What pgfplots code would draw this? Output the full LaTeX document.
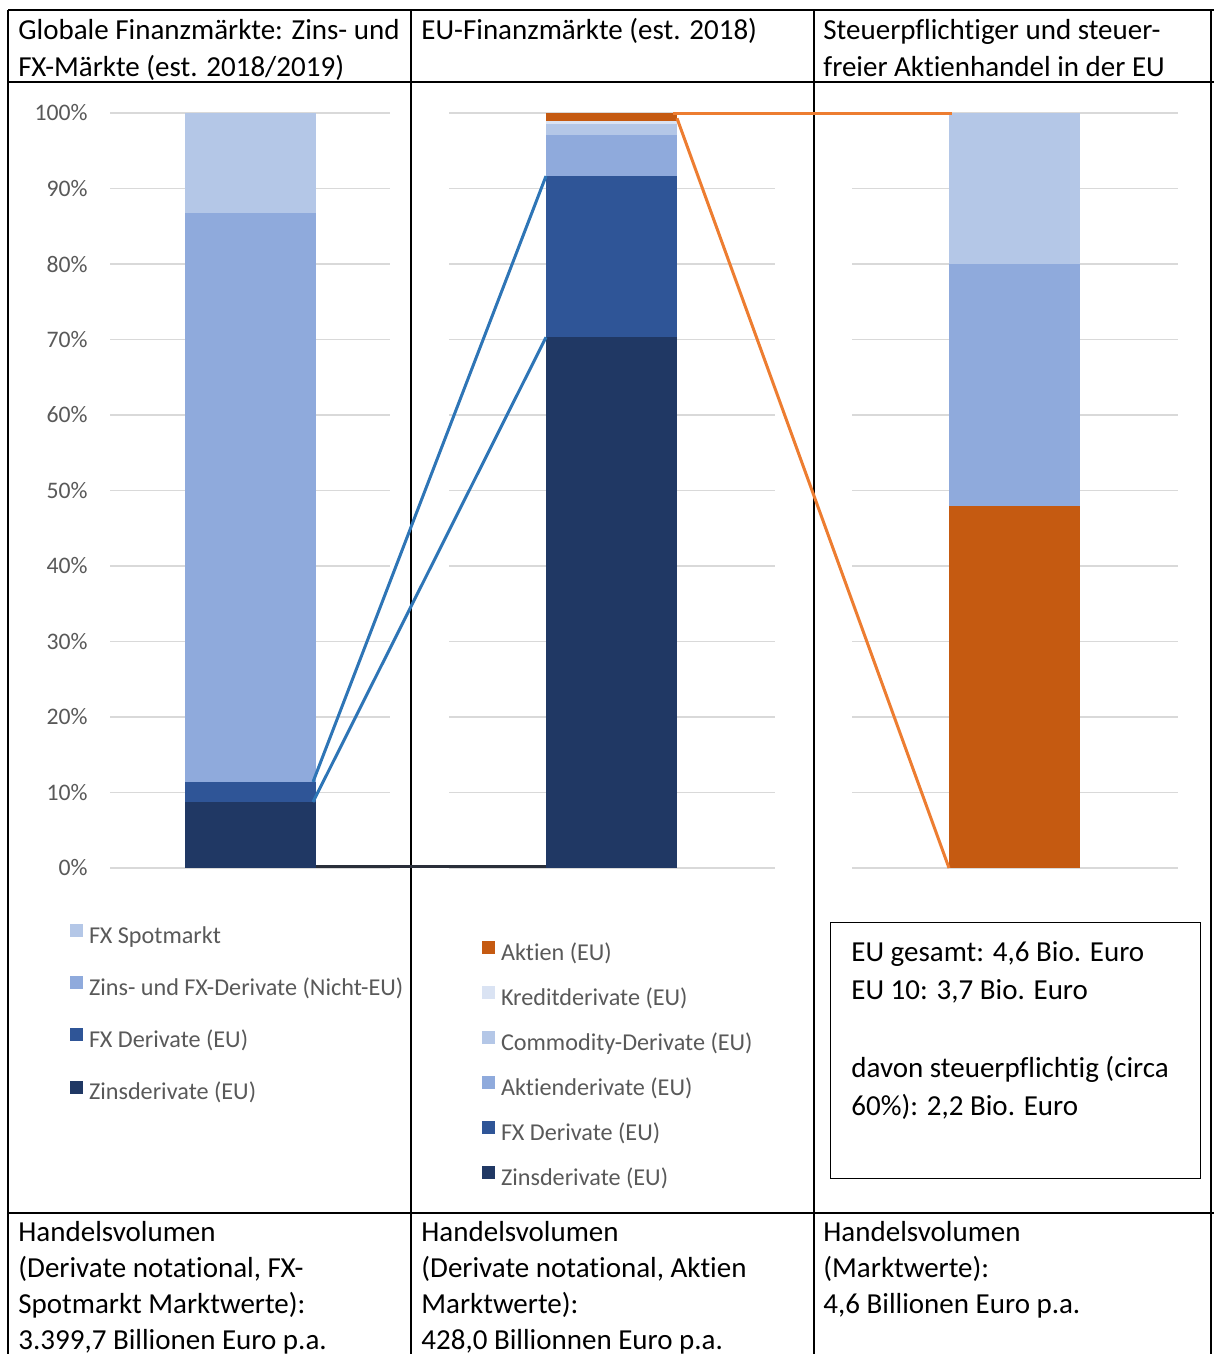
\documentclass[border=0pt]{standalone}
\usepackage{fontspec}
\setmainfont{Carlito}[Ligatures={TeX,NoCommon}]
\usepackage{pgfplots}
\pgfplotsset{compat=1.18}

\definecolor{navy}{HTML}{203864}
\definecolor{fxd}{HTML}{2F5597}
\definecolor{midb}{HTML}{8FAADC}
\definecolor{lightb}{HTML}{B4C7E7}
\definecolor{palb}{HTML}{DAE3F3}
\definecolor{aktien}{HTML}{C55A11}
\definecolor{blueln}{HTML}{2E75B6}
\definecolor{orangeln}{HTML}{ED7D31}
\definecolor{darkln}{HTML}{2A2F3A}
\definecolor{gridc}{HTML}{D9D9D9}
\definecolor{txt}{HTML}{595959}

\newcommand\hdr{\fontsize{14.5pt}{18pt}\selectfont}
\newcommand\sm{\fontsize{11.85pt}{14pt}\selectfont}
\newcommand\legfont{\fontsize{12.1pt}{14pt}\selectfont}

% common look of the three bar panels (1 unit in x = 1 px of the reference)
\pgfplotsset{
  panel/.style={
    anchor=south west, scale only axis, height=377.5pt,
    ymin=0, ymax=100,
    ybar stacked, bar width=131,
    axis line style={draw=none}, xtick=\empty,
    ytick={0,10,...,100}, major tick length=0pt, tick style={draw=none},
    ymajorgrids, grid style={draw=gridc, line width=0.75pt},
    yticklabel style={font=\sm, text=txt, anchor=east, inner sep=0pt, xshift=-11pt},
    legend image code/.code={\fill[##1] (0pt,0.5pt) rectangle (6.5pt,7pt);},
    reverse legend, legend cell align=left,
    legend style={draw=none, fill=none, inner sep=0pt, outer sep=0pt,
      anchor=north west, font=\legfont, text=txt, column sep=3pt,
      nodes={inner sep=0pt, text height=8pt, text depth=3pt}},
  },
}

\begin{document}
\begin{tikzpicture}[x=0.5pt,y=-0.5pt]
\useasboundingbox (0,0) rectangle (1214,1354);

% table frame
\draw[line width=1pt] (8,10) -- (1214,10);
\draw[line width=1pt] (8,82) -- (1214,82);
\draw[line width=1pt] (8,1213) -- (1214,1213);
\foreach \xx in {8,411,814,1211} \draw[line width=1pt] (\xx,10) -- (\xx,1360);

% headers
\node[anchor=base west, font=\hdr, inner sep=0pt] at (18,40) {Globale Finanzmärkte: Zins- und};
\node[anchor=base west, font=\hdr, inner sep=0pt] at (18,76) {FX-Märkte (est. 2018/2019)};
\node[anchor=base west, font=\hdr, inner sep=0pt] at (421,40) {EU-Finanzmärkte (est. 2018)};
\node[anchor=base west, font=\hdr, inner sep=0pt] at (823,40) {Steuerpflichtiger und steuer-};
\node[anchor=base west, font=\hdr, inner sep=0pt] at (823,76) {freier Aktienhandel in der EU};

% panel 1
\begin{axis}[panel, at={(55pt,-434pt)}, width=140pt, xmin=110, xmax=390,
  yticklabels={0\%,10\%,20\%,30\%,40\%,50\%,60\%,70\%,80\%,90\%,100\%},
  legend style={at={(-0.142857,-0.0742)}, row sep=13.6pt}]
\addplot[fill=navy, draw=none] coordinates {(250.5,8.74)};
\addplot[fill=fxd, draw=none] coordinates {(250.5,2.65)};
\addplot[fill=midb, draw=none] coordinates {(250.5,75.36)};
\addplot[fill=lightb, draw=none] coordinates {(250.5,13.25)};
\legend{Zinsderivate (EU), FX Derivate (EU), Zins- und FX-Derivate (Nicht-EU), FX Spotmarkt}
\end{axis}

% panel 2
\begin{axis}[panel, at={(224.5pt,-434pt)}, width=163pt, xmin=449, xmax=775,
  yticklabels=\empty,
  legend style={at={(0.10123,-0.0967)}, row sep=10pt}]
\addplot[fill=navy, draw=none] coordinates {(611.5,70.3)};
\addplot[fill=fxd, draw=none] coordinates {(611.5,21.35)};
\addplot[fill=midb, draw=none] coordinates {(611.5,5.45)};
\addplot[fill=lightb, draw=none] coordinates {(611.5,1.47)};
\addplot[fill=palb, draw=none] coordinates {(611.5,0.36)};
\addplot[fill=aktien, draw=none] coordinates {(611.5,1.07)};
\legend{Zinsderivate (EU), FX Derivate (EU), Aktienderivate (EU), Commodity-Derivate (EU), Kreditderivate (EU), Aktien (EU)}
\end{axis}

% panel 3
\begin{axis}[panel, at={(426pt,-434pt)}, width=163pt, xmin=852, xmax=1178,
  yticklabels=\empty]
\addplot[fill=aktien, draw=none] coordinates {(1014.5,48)};
\addplot[fill=midb, draw=none] coordinates {(1014.5,32)};
\addplot[fill=lightb, draw=none] coordinates {(1014.5,20)};
\end{axis}

% connector lines between the panels
\begin{axis}[at={(55pt,-434pt)}, anchor=south west, scale only axis,
  width=534pt, height=377.5pt, xmin=110, xmax=1178, ymin=0, ymax=100,
  hide axis, clip=false]
\addplot[blueln, line width=1.5pt] coordinates {(313,11.4) (546,91.65)};
\addplot[blueln, line width=1.5pt] coordinates {(313,8.74) (546,70.3)};
\addplot[darkln, line width=1.5pt] coordinates {(316,0.26) (546,0.26)};
\addplot[orangeln, line width=1.5pt] coordinates {(673,100) (952,100)};
\addplot[orangeln, line width=1.5pt] coordinates {(677,99.3) (949,0)};
\end{axis}

% text box
\draw[line width=0.5pt] (830,922) rectangle (1200,1178);
\node[anchor=base west, font=\hdr, inner sep=0pt] at (851,961) {EU gesamt: 4,6 Bio. Euro};
\node[anchor=base west, font=\hdr, inner sep=0pt] at (851,999) {EU 10: 3,7 Bio. Euro};
\node[anchor=base west, font=\hdr, inner sep=0pt] at (851,1077) {davon steuerpflichtig (circa};
\node[anchor=base west, font=\hdr, inner sep=0pt] at (851,1115) {60\%): 2,2 Bio. Euro};

% footer
\node[anchor=base west, font=\hdr, inner sep=0pt] at (18,1241) {Handelsvolumen};
\node[anchor=base west, font=\hdr, inner sep=0pt] at (18,1277) {(Derivate notational, FX-};
\node[anchor=base west, font=\hdr, inner sep=0pt] at (18,1313) {Spotmarkt Marktwerte):};
\node[anchor=base west, font=\hdr, inner sep=0pt] at (18,1349) {3.399,7 Billionen Euro p.a.};
\node[anchor=base west, font=\hdr, inner sep=0pt] at (421,1241) {Handelsvolumen};
\node[anchor=base west, font=\hdr, inner sep=0pt] at (421,1277) {(Derivate notational, Aktien};
\node[anchor=base west, font=\hdr, inner sep=0pt] at (421,1313) {Marktwerte):};
\node[anchor=base west, font=\hdr, inner sep=0pt] at (421,1349) {428,0 Billionnen Euro p.a.};
\node[anchor=base west, font=\hdr, inner sep=0pt] at (823,1241) {Handelsvolumen};
\node[anchor=base west, font=\hdr, inner sep=0pt] at (823,1277) {(Marktwerte):};
\node[anchor=base west, font=\hdr, inner sep=0pt] at (823,1313) {4,6 Billionen Euro p.a.};
\end{tikzpicture}
\end{document}
